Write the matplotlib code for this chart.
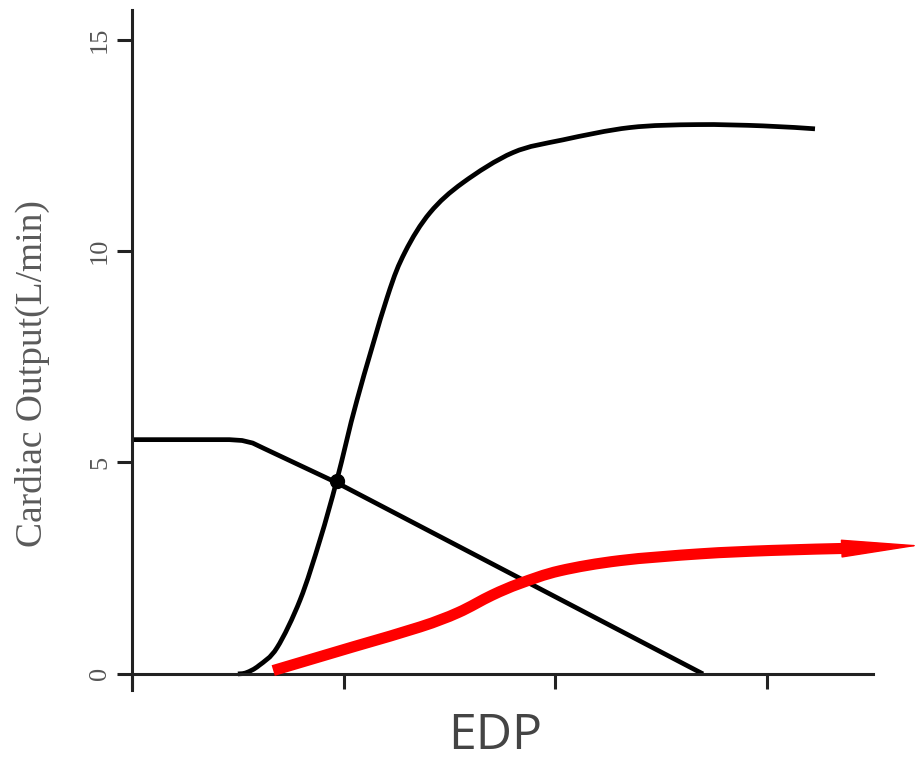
import matplotlib
matplotlib.use("Agg")
import matplotlib.pyplot as plt
from matplotlib.path import Path
from matplotlib.patches import PathPatch

# Cardiac function curve (sigmoid)
cardiac_x = [0.50, 0.540, 0.600, 0.685, 0.794, 0.888, 0.968, 1.063,
             1.205, 1.290, 1.408, 1.564, 1.800, 2.036, 2.352, 2.669, 2.981, 3.226]
cardiac_y = [0.0, 0.03, 0.20, 0.62, 1.75, 3.17, 4.59, 6.48,
             8.90, 9.98, 10.91, 11.62, 12.33, 12.63, 12.92, 12.99, 12.96, 12.89]

# Venous return curve
venous_x = [0.0, 0.46, 0.52, 0.57, 0.62, 0.968, 2.697]
venous_y = [5.54, 5.54, 5.52, 5.46, 5.34, 4.52, 0.0]

# Equilibrium point
eq_x, eq_y = 0.968, 4.57

# Shifted (depressed) cardiac function curve
red_x = [0.667, 1.044, 1.360, 1.540, 1.700, 1.833, 2.022, 2.305, 2.683, 3.020, 3.382]
red_y = [0.08, 0.64, 1.11, 1.45, 1.86, 2.14, 2.44, 2.68, 2.84, 2.92, 2.97]
red_tip = (3.722, 3.04)

y_ticks = [0, 5, 10, 15]
x_ticks = [0, 1, 2, 3]


def smooth_path(xs, ys):
    """Smooth Bezier path passing through every given point."""
    pts = list(zip(xs, ys))
    verts = [pts[0]]
    codes = [Path.MOVETO]
    n = len(pts)
    for i in range(n - 1):
        p0 = pts[max(i - 1, 0)]
        p1 = pts[i]
        p2 = pts[i + 1]
        p3 = pts[min(i + 2, n - 1)]
        c1 = (p1[0] + (p2[0] - p0[0]) / 6, p1[1] + (p2[1] - p0[1]) / 6)
        c2 = (p2[0] - (p3[0] - p1[0]) / 6, p2[1] - (p3[1] - p1[1]) / 6)
        verts += [c1, c2, p2]
        codes += [Path.CURVE4] * 3
    return Path(verts, codes)


fig = plt.figure(figsize=(9.2, 7.6), dpi=100)
ax = fig.add_axes([132 / 920, 1 - 690 / 760, (873 - 132) / 920, (690 - 10) / 760])
ax.set_xlim(0, 3.5)
ax.set_ylim(-0.38, 15.7)

for s in ("top", "right"):
    ax.spines[s].set_visible(False)
ax.spines["bottom"].set_position(("data", 0))
for s in ("left", "bottom"):
    ax.spines[s].set_linewidth(2.2)
    ax.spines[s].set_color("#222222")

ax.set_xticks(x_ticks)
ax.set_xticklabels([])
ax.set_yticks(y_ticks)
ax.set_yticklabels([str(v) for v in y_ticks], rotation=90, va="center",
                   family="Liberation Serif", fontsize=19, color="#555555")
ax.tick_params(axis="both", direction="out", length=11, width=2.2, color="#222222")
ax.tick_params(axis="y", pad=4)

ax.add_patch(PathPatch(smooth_path(cardiac_x, cardiac_y), fill=False,
                       edgecolor="black", lw=3.4, capstyle="butt"))
ax.plot(venous_x, venous_y, color="black", lw=3.4, solid_capstyle="butt",
        solid_joinstyle="round")
ax.plot([eq_x], [eq_y], "o", color="black", markersize=10)

ax.add_patch(PathPatch(smooth_path(red_x, red_y), fill=False, edgecolor="#ff0000",
                       lw=8, capstyle="butt", joinstyle="round", clip_on=False,
                       zorder=5))
ax.annotate("", xy=red_tip, xytext=(red_x[-1], red_y[-1]),
            arrowprops=dict(arrowstyle="-|>,head_length=5.2,head_width=0.6",
                            color="#ff0000", lw=1, shrinkA=0, shrinkB=0,
                            mutation_scale=10),
            annotation_clip=False, zorder=5)

fig.text(32 / 920, 1 - 374 / 760, "Cardiac Output(L/min)", rotation=90,
         ha="center", va="center", family="Liberation Serif", fontsize=27,
         color="#5a5a5a")
fig.text(495 / 920, 1 - 736 / 760, "EDP", ha="center", va="center",
         family="Open Sans", fontsize=36, color="#444444")

fig.savefig("out.png", dpi=100, facecolor="white")
